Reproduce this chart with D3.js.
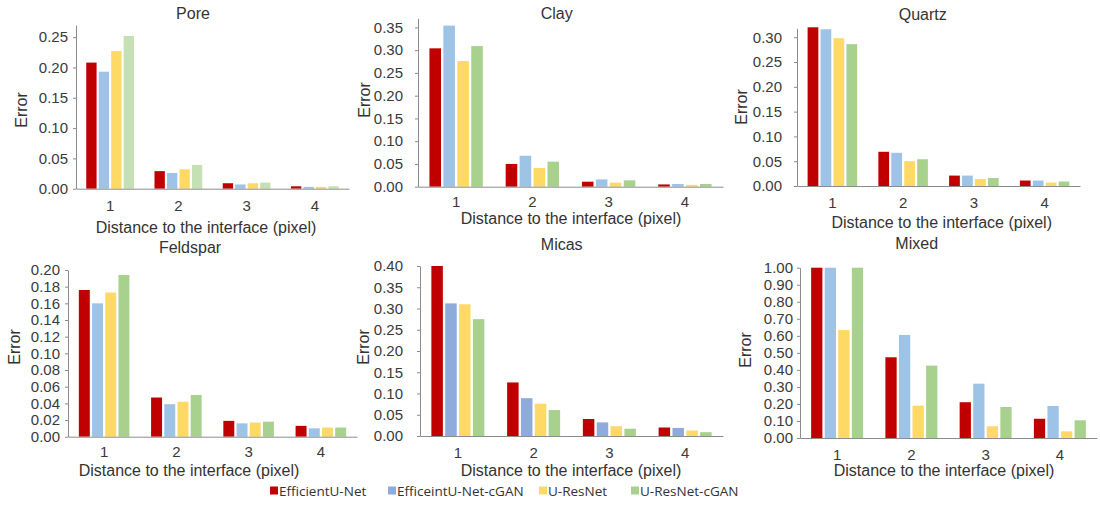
<!DOCTYPE html>
<html>
<head>
<meta charset="utf-8">
<script src="https://cdn.jsdelivr.net/npm/d3@7"></script>
<style>
  html, body { margin: 0; padding: 0; background: #fff; }
  svg { display: block; }
  .tick text { font-family: "Liberation Sans", Arial, sans-serif; fill: #3a3a3a; }
</style>
</head>
<body>
<svg id="chart" width="1100" height="510"></svg>
<script>
// Distances from the phase interface (x categories) and the four models compared
const distances = ["1", "2", "3", "4"];
const models = ["EfficientU-Net", "EfficeintU-Net-cGAN", "U-ResNet", "U-ResNet-cGAN"];

// Error per distance; each row lists the four models in the order above
const poreErrors = [
  [0.208, 0.193, 0.227, 0.252],
  [0.029, 0.026, 0.032, 0.039],
  [0.009, 0.007, 0.009, 0.010],
  [0.004, 0.003, 0.003, 0.004]
];
const clayErrors = [
  [0.304, 0.354, 0.276, 0.309],
  [0.050, 0.068, 0.041, 0.055],
  [0.011, 0.016, 0.009, 0.014],
  [0.005, 0.006, 0.004, 0.006]
];
const quartzErrors = [
  [0.320, 0.316, 0.298, 0.286],
  [0.069, 0.067, 0.050, 0.054],
  [0.021, 0.021, 0.014, 0.016],
  [0.011, 0.011, 0.007, 0.009]
];
const feldsparErrors = [
  [0.176, 0.160, 0.173, 0.194],
  [0.047, 0.039, 0.042, 0.050],
  [0.019, 0.016, 0.017, 0.018],
  [0.013, 0.010, 0.011, 0.011]
];
const micasErrors = [
  [0.400, 0.312, 0.310, 0.275],
  [0.126, 0.089, 0.076, 0.061],
  [0.040, 0.032, 0.023, 0.017],
  [0.020, 0.019, 0.013, 0.009]
];
const mixedErrors = [
  [1.000, 1.000, 0.634, 1.000],
  [0.474, 0.605, 0.190, 0.425],
  [0.210, 0.319, 0.069, 0.182],
  [0.113, 0.188, 0.039, 0.104]
];

// Y tick labels of each panel
const poreTicks = [0, 0.05, 0.10, 0.15, 0.20, 0.25];
const clayTicks = [0, 0.05, 0.10, 0.15, 0.20, 0.25, 0.30, 0.35];
const quartzTicks = [0, 0.05, 0.10, 0.15, 0.20, 0.25, 0.30];
const feldsparTicks = [0, 0.02, 0.04, 0.06, 0.08, 0.10, 0.12, 0.14, 0.16, 0.18, 0.20];
const micasTicks = [0, 0.05, 0.10, 0.15, 0.20, 0.25, 0.30, 0.35, 0.40];
const mixedTicks = [0, 0.10, 0.20, 0.30, 0.40, 0.50, 0.60, 0.70, 0.80, 0.90, 1.00];

const panelTitles = ["Pore", "Clay", "Quartz", "Feldspar", "Micas", "Mixed"];
const panelErrors = [poreErrors, clayErrors, quartzErrors, feldsparErrors, micasErrors, mixedErrors];
const panelTicks = [poreTicks, clayTicks, quartzTicks, feldsparTicks, micasTicks, mixedTicks];
const panelMax = [0.27, 0.37, 0.318, 0.20, 0.40, 1.00];

// Plot frames and label anchors for the 3 x 2 grid
const frames = [
  { left: 76,  right: 349,  top: 25,    bottom: 188.7, tickPad: 5,  title: [193, 13],    yTitle: [21, 110],    xTitle: [206, 227],   catPad: 12 },
  { left: 418, right: 723,  top: 18.3,  bottom: 186.7, tickPad: 12, title: [556.7, 13],  yTitle: [364, 100],   xTitle: [571, 218],   catPad: 10 },
  { left: 797, right: 1080, top: 28.3,  bottom: 186,   tickPad: 12, title: [922.7, 14],  yTitle: [741.7, 107], xTitle: [941.7, 222], catPad: 11 },
  { left: 68,  right: 357,  top: 270,   bottom: 436.7, tickPad: 5,  title: [190, 247],   yTitle: [14, 347],    xTitle: [189, 470],   catPad: 10 },
  { left: 420, right: 723,  top: 266,   bottom: 436,   tickPad: 14, title: [561.7, 244], yTitle: [363, 347],   xTitle: [571, 470],   catPad: 11 },
  { left: 800, right: 1097, top: 267.7, bottom: 438,   tickPad: 4,  title: [916.7, 243], yTitle: [745, 350],   xTitle: [944, 470],   catPad: 11 }
];

const modelColors = ["#c00000", "#9dc3e6", "#ffd966", "#a9d18e"];
// Per-panel shade overrides (Pore uses a paler green, Micas a periwinkle blue)
const colorOverrides = { 0: { 3: "#c5e0b4" }, 4: { 1: "#8faadc" } };
const legendColors = ["#c00000", "#8faadc", "#ffd966", "#a9d18e"];

const FONT = '"Liberation Sans", Arial, sans-serif';
const TEXT = "#333333";
const AXIS = "#8c8c8c";

const svg = d3.select("#chart");

panelTitles.forEach((title, p) => {
  const f = frames[p];
  const data = panelErrors[p];
  const g = svg.append("g");

  const x = d3.scaleBand().domain(distances).range([f.left, f.right])
    .paddingInner(0.3).paddingOuter(0.15);
  const xm = d3.scaleBand().domain(models).range([0, x.bandwidth()]).paddingInner(0.17);
  const y = d3.scaleLinear().domain([0, panelMax[p]]).range([f.bottom, f.top]);

  // bars
  distances.forEach((d, i) => {
    g.append("g").selectAll("rect")
      .data(models.map((m, k) => ({ m, k, v: data[i][k] })))
      .join("rect")
      .attr("x", e => x(d) + xm(e.m))
      .attr("width", xm.bandwidth())
      .attr("y", e => y(e.v))
      .attr("height", e => y(0) - y(e.v))
      .attr("fill", e => (colorOverrides[p] && colorOverrides[p][e.k]) || modelColors[e.k]);
  });

  // y axis
  const ya = g.append("g")
    .attr("transform", `translate(${f.left},0)`)
    .call(d3.axisLeft(y).tickValues(panelTicks[p]).tickFormat(d3.format(".2f"))
      .tickSizeInner(3).tickSizeOuter(0).tickPadding(f.tickPad));
  ya.select(".domain").attr("stroke", AXIS);
  ya.selectAll(".tick line").attr("stroke", AXIS);
  ya.selectAll(".tick text").attr("font-size", 15).attr("font-family", FONT).attr("fill", TEXT);

  // x axis
  const xa = g.append("g")
    .attr("transform", `translate(0,${f.bottom})`)
    .call(d3.axisBottom(x).tickSize(0).tickPadding(f.catPad));
  xa.select(".domain").attr("stroke", AXIS);
  xa.selectAll(".tick text").attr("font-size", 15).attr("font-family", FONT).attr("fill", TEXT);

  // titles
  g.append("text").attr("x", f.title[0]).attr("y", f.title[1])
    .attr("text-anchor", "middle").attr("dominant-baseline", "central")
    .attr("font-family", FONT).attr("font-size", 16).attr("fill", TEXT).text(title);
  g.append("text")
    .attr("transform", `translate(${f.yTitle[0]},${f.yTitle[1]}) rotate(-90)`)
    .attr("text-anchor", "middle").attr("dominant-baseline", "central")
    .attr("font-family", FONT).attr("font-size", 16).attr("fill", TEXT).text("Error");
  g.append("text").attr("x", f.xTitle[0]).attr("y", f.xTitle[1])
    .attr("text-anchor", "middle").attr("dominant-baseline", "central")
    .attr("font-family", FONT).attr("font-size", 16).attr("fill", TEXT)
    .text("Distance to the interface (pixel)");
});

// shared legend
const legendX = [270, 388, 539, 631];
const legend = svg.append("g");
models.forEach((m, k) => {
  legend.append("rect").attr("x", legendX[k]).attr("y", 486.5)
    .attr("width", 8).attr("height", 8).attr("fill", legendColors[k]);
  legend.append("text").attr("x", legendX[k] + 9).attr("y", 490.5)
    .attr("dominant-baseline", "central")
    .attr("font-family", '"Open Sans", "Noto Sans", sans-serif').attr("font-size", 13.5)
    .attr("fill", TEXT).text(m);
});
</script>
</body>
</html>
